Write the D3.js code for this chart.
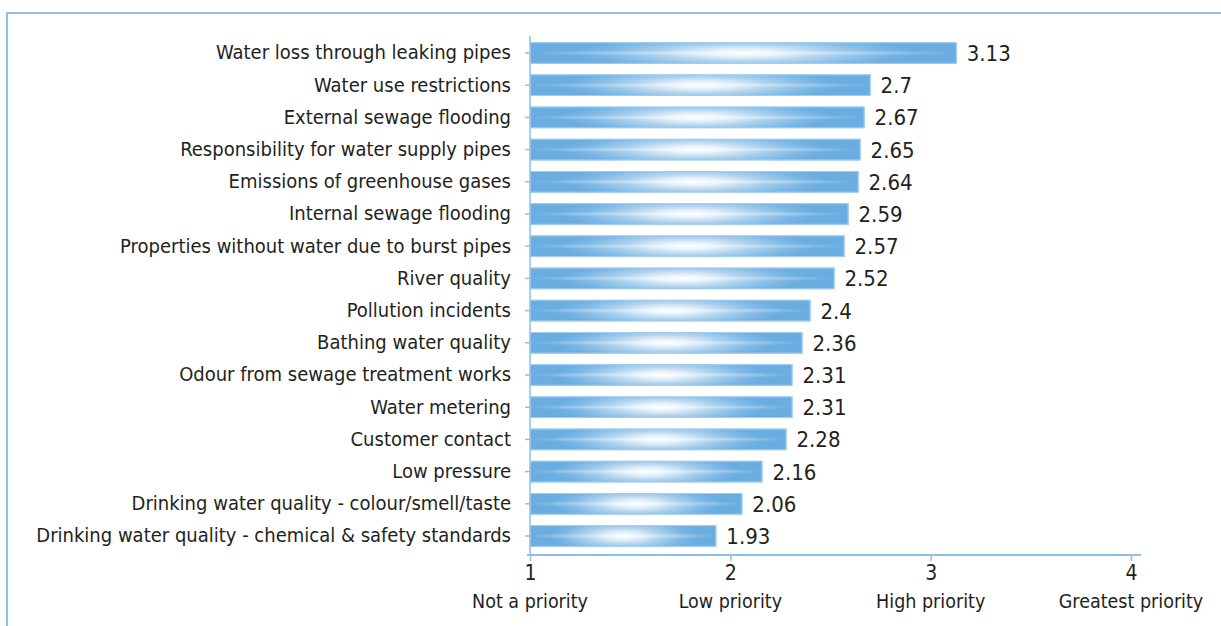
<!DOCTYPE html>
<html>
<head>
<meta charset="utf-8">
<script src="https://cdn.jsdelivr.net/npm/d3@7"></script>
<style>
  html, body { margin: 0; padding: 0; background: #ffffff; }
  svg { display: block; }
  text { font-family: "Liberation Sans Narrow", "Arial Narrow", "DejaVu Sans Condensed", sans-serif; fill: #231f20; }
</style>
</head>
<body>
<svg id="chart" width="1221" height="626"></svg>
<script>
// Priority scores (1 = not a priority ... 4 = greatest priority)
const categories = [
  "Water loss through leaking pipes",
  "Water use restrictions",
  "External sewage flooding",
  "Responsibility for water supply pipes",
  "Emissions of greenhouse gases",
  "Internal sewage flooding",
  "Properties without water due to burst pipes",
  "River quality",
  "Pollution incidents",
  "Bathing water quality",
  "Odour from sewage treatment works",
  "Water metering",
  "Customer contact",
  "Low pressure",
  "Drinking water quality - colour/smell/taste",
  "Drinking water quality - chemical & safety standards"
];
const scores = [3.13, 2.7, 2.67, 2.65, 2.64, 2.59, 2.57, 2.52, 2.4, 2.36, 2.31, 2.31, 2.28, 2.16, 2.06, 1.93];
const tickValues = [1, 2, 3, 4];
const tickNames = ["Not a priority", "Low priority", "High priority", "Greatest priority"];

const svg = d3.select("#chart");
const axisColor = "#8fc1e8";
const barColor = "#6aade0";

// Frame lines
svg.append("path")
  .attr("d", "M7,626 V13 H1221")
  .attr("fill", "none")
  .attr("stroke", axisColor)
  .attr("stroke-width", 2);

const x = d3.scaleLinear().domain([1, 4]).range([530, 1131]);
const y = d3.scaleBand().domain(categories).range([36.9, 552.1])
  .paddingInner(0.33).paddingOuter(0.165);

// Bar fill: blue with a soft white glow in the middle and a thin light streak
const defs = svg.append("defs");
const glow = defs.append("radialGradient").attr("id", "barGlow")
  .attr("cx", 0.5).attr("cy", 0.5).attr("r", 0.5)
  .attr("gradientTransform", "translate(0.5,0.5) scale(0.8,1.6) translate(-0.5,-0.5)");
[[0, "#ffffff"], [0.22, "#e4f0fa"], [0.52, "#a9d0ee"], [0.82, "#7cb7e5"], [1, barColor]]
  .forEach(([o, c]) => glow.append("stop").attr("offset", o).attr("stop-color", c));

const streak = defs.append("linearGradient").attr("id", "barStreak")
  .attr("x1", 0).attr("y1", 0).attr("x2", 0).attr("y2", 1);
[[0, 0], [0.38, 0], [0.5, 0.5], [0.62, 0], [1, 0]]
  .forEach(([o, a]) => streak.append("stop").attr("offset", o)
    .attr("stop-color", "#ffffff").attr("stop-opacity", a));

const fade = defs.append("linearGradient").attr("id", "streakFade")
  .attr("x1", 0).attr("y1", 0).attr("x2", 1).attr("y2", 0);
[[0, 0], [0.12, 0.5], [0.5, 1], [0.88, 0.5], [1, 0]]
  .forEach(([o, a]) => fade.append("stop").attr("offset", o)
    .attr("stop-color", "#ffffff").attr("stop-opacity", a));

defs.append("mask").attr("id", "streakMask")
  .attr("maskContentUnits", "objectBoundingBox")
  .append("rect").attr("x", 0).attr("y", 0).attr("width", 1).attr("height", 1)
  .attr("fill", "url(#streakFade)");

const bars = svg.append("g");
const data = categories.map((c, i) => ({ name: c, value: scores[i] }));

bars.selectAll("rect.bar").data(data).join("rect")
  .attr("class", "bar")
  .attr("x", x(1))
  .attr("y", d => y(d.name))
  .attr("width", d => x(d.value) - x(1))
  .attr("height", y.bandwidth())
  .attr("fill", "url(#barGlow)");

bars.selectAll("rect.streak").data(data).join("rect")
  .attr("class", "streak")
  .attr("x", x(1))
  .attr("y", d => y(d.name))
  .attr("width", d => x(d.value) - x(1))
  .attr("height", y.bandwidth())
  .attr("fill", "url(#barStreak)")
  .attr("mask", "url(#streakMask)");

bars.selectAll("rect.edge").data(data).join("rect")
  .attr("class", "edge")
  .attr("x", x(1) + 0.5)
  .attr("y", d => y(d.name) + 0.5)
  .attr("width", d => x(d.value) - x(1) - 1)
  .attr("height", y.bandwidth() - 1)
  .attr("fill", "none")
  .attr("stroke", "#a3cdef")
  .attr("stroke-width", 1);

// Value labels
svg.append("g").selectAll("text").data(data).join("text")
  .attr("x", d => x(d.value) + 10)
  .attr("y", d => y(d.name) + y.bandwidth() / 2)
  .attr("dy", "0.36em")
  .attr("font-size", 22)
  .text(d => String(d.value));

// Category axis
const yAxis = svg.append("g").attr("transform", `translate(${x(1)},0)`)
  .call(d3.axisLeft(y).tickSize(5).tickPadding(14));
yAxis.attr("font-family", null).attr("font-size", null);
yAxis.select(".domain").attr("d", "M0,36V555").attr("stroke", axisColor).attr("stroke-width", 1.5);
yAxis.selectAll(".tick line").attr("stroke", axisColor).attr("stroke-width", 1.5);
yAxis.selectAll(".tick text").attr("font-size", 20).attr("fill", "#231f20");

// Score axis
const xAxis = svg.append("g").attr("transform", "translate(0,555)")
  .call(d3.axisBottom(x).tickValues(tickValues).tickFormat(d3.format("d")).tickSize(6).tickPadding(4));
xAxis.attr("font-family", null).attr("font-size", null);
xAxis.select(".domain").attr("d", "M527,0H1141").attr("stroke", axisColor).attr("stroke-width", 2);
xAxis.selectAll(".tick line").attr("stroke", axisColor).attr("stroke-width", 1.5);
xAxis.selectAll(".tick text").attr("font-size", 21).attr("fill", "#231f20");

svg.append("g").selectAll("text").data(tickValues).join("text")
  .attr("x", d => x(d))
  .attr("y", 608)
  .attr("text-anchor", "middle")
  .attr("font-size", 19.5)
  .text((d, i) => tickNames[i]);
</script>
</body>
</html>
